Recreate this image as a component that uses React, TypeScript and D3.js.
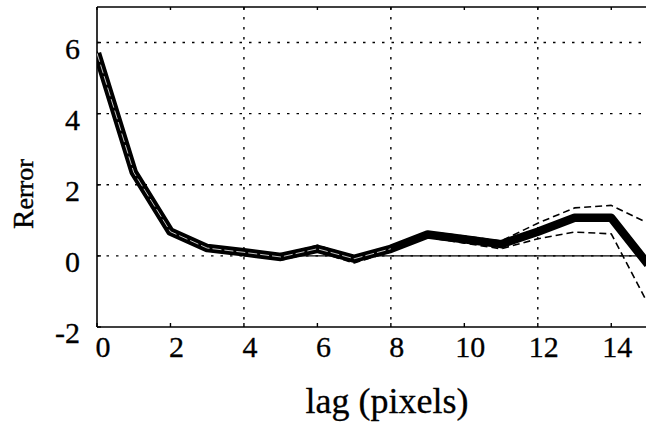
import React from "react";
import * as d3 from "d3";

const lags = [0, 1, 2, 3, 4, 5, 6, 7, 8, 9, 10, 11, 12, 13, 14, 15];
const meanError = [5.7, 2.35, 0.68, 0.22, 0.1, -0.03, 0.2, -0.08, 0.2, 0.6, 0.47, 0.33, 0.68, 1.07, 1.07, -0.24];
const upperError = [5.75, 2.5, 0.72, 0.27, 0.12, 0.02, 0.3, -0.02, 0.27, 0.68, 0.56, 0.42, 0.92, 1.35, 1.42, 0.92];
const lowerError = [5.65, 2.2, 0.62, 0.17, 0.05, -0.12, 0.12, -0.2, 0.12, 0.52, 0.36, 0.2, 0.48, 0.67, 0.62, -1.35];
const xTicks = [0, 2, 4, 6, 8, 10, 12, 14];
const yTicks = [-2, 0, 2, 4, 6];
const xGrid = [4, 8, 12];
const yGrid = [0, 2, 4, 6];

export default function App() {
  const W = 646, H = 423;
  const L = 97, R = 648, T = 7, B = 327;
  const x = d3.scaleLinear().domain([0, 15]).range([L, R]);
  const y = d3.scaleLinear().domain([-2, 7]).range([B, T]);
  const line = d3.line<number>().x((_, i) => x(lags[i])).y((d) => y(d));
  const innerLine = d3
    .line<number>()
    .defined((_, i) => lags[i] <= 8)
    .x((_, i) => x(lags[i]))
    .y((d) => y(d));
  const font = "'Liberation Serif', 'DejaVu Serif', serif";

  return (
    <svg width={W} height={H} style={{ position: "absolute", left: 0, top: 0, background: "#fff" }}>
      <defs>
        <clipPath id="plot">
          <rect x={L} y={T} width={R - L} height={B - T} />
        </clipPath>
      </defs>
      <rect x={0} y={0} width={W} height={H} fill="#fff" />
      {/* grid */}
      {yGrid.map((v) => (
        <line key={"gy" + v} x1={L} x2={W} y1={y(v)} y2={y(v)} stroke="#000" strokeWidth={1.4} strokeDasharray="2.5,7" />
      ))}
      {xGrid.map((v) => (
        <line key={"gx" + v} x1={x(v)} x2={x(v)} y1={T} y2={B} stroke="#000" strokeWidth={1.4} strokeDasharray="2.5,7.5" />
      ))}
      {/* zero reference */}
      <line x1={x(4)} x2={W} y1={y(0)} y2={y(0)} stroke="#000" strokeWidth={1.1} />
      {/* frame */}
      <line x1={L} x2={L} y1={T} y2={B} stroke="#000" strokeWidth={1.6} />
      <line x1={L} x2={W} y1={B} y2={B} stroke="#000" strokeWidth={1.6} />
      <line x1={L} x2={W} y1={T} y2={T} stroke="#000" strokeWidth={1.6} />
      {xTicks.map((v) => (
        <g key={"tx" + v}>
          <line x1={x(v)} x2={x(v)} y1={B} y2={B - 4} stroke="#000" strokeWidth={1.4} />
          <line x1={x(v)} x2={x(v)} y1={T} y2={T + 3} stroke="#000" strokeWidth={1.4} />
        </g>
      ))}
      {yTicks.map((v) => (
        <line key={"ty" + v} x1={L} x2={L + 4} y1={y(v)} y2={y(v)} stroke="#000" strokeWidth={1.4} />
      ))}
      {/* data */}
      <g clipPath="url(#plot)" fill="none" strokeLinejoin="round">
        <path d={line(upperError) || ""} stroke="#000" strokeWidth={1.6} strokeDasharray="7,4" />
        <path d={line(lowerError) || ""} stroke="#000" strokeWidth={1.6} strokeDasharray="7,4" />
        <path d={line(meanError) || ""} stroke="#000" strokeWidth={8.5} />
        <path d={innerLine(meanError) || ""} stroke="#fff" strokeWidth={0.9} strokeDasharray="9,3" opacity={0.85} />
      </g>
      {/* tick labels */}
      <g fontFamily={font} fill="#000" stroke="#000" strokeWidth={0.3}>
        {xTicks.map((v) => (
          <text key={"lx" + v} x={x(v) + 6} y={357} textAnchor="middle" fontSize={30}>
            {v}
          </text>
        ))}
        {yTicks.map((v) => (
          <text key={"ly" + v} x={80} y={y(v) + 16} textAnchor="end" fontSize={30}>
            {v}
          </text>
        ))}
        {/* axis titles */}
        <text x={387} y={413} textAnchor="middle" fontSize={36} strokeWidth={0.3}>
          lag (pixels)
        </text>
        <text transform="translate(33,194) rotate(-90)" textAnchor="middle" strokeWidth={0.4}>
          <tspan fontSize={29}>R</tspan>
          <tspan fontSize={26}>error</tspan>
        </text>
      </g>
    </svg>
  );
}
